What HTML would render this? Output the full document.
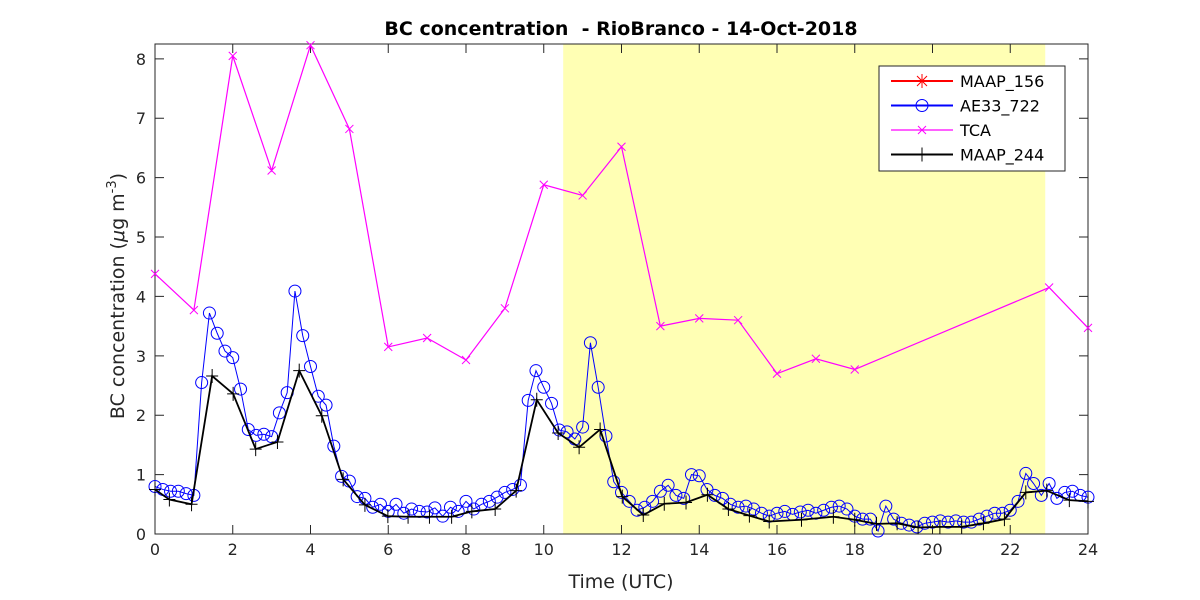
<!DOCTYPE html>
<html><head><meta charset="utf-8"><style>
html,body{margin:0;padding:0;background:#fff;}
svg{display:block;font-family:"DejaVu Sans","Liberation Sans",sans-serif;}
</style></head><body>
<svg id="chart" width="1200" height="600" xmlns="http://www.w3.org/2000/svg">
<rect x="0" y="0" width="1200" height="600" fill="#fff"/>
<text x="621" y="35" text-anchor="middle" font-size="19" font-weight="bold" xml:space="preserve" style="white-space:pre">BC concentration  - RioBranco - 14-Oct-2018</text>
<g id="plot"></g>
<text x="621" y="588" text-anchor="middle" font-size="19" fill="#262626">Time (UTC)</text>
<text transform="translate(124,296) rotate(-90)" text-anchor="middle" font-size="19" fill="#262626">BC concentration (<tspan font-style="italic">μ</tspan>g m<tspan dy="-8" font-size="13">-3</tspan><tspan dy="8">)</tspan></text>
</svg>
<script>
const xTicks=[0,2,4,6,8,10,12,14,16,18,20,22,24];
const yTicks=[0,1,2,3,4,5,6,7,8];
const shadeRange=[10.5,22.9];
const tcaTimes=[0,1,2,3,4,5,6,7,8,9,10,11,12,13,14,15,16,17,18,23,24];
const tcaValues=[4.38,3.77,8.05,6.12,8.23,6.82,3.15,3.3,2.93,3.8,5.88,5.7,6.52,3.5,3.63,3.6,2.7,2.95,2.77,4.15,3.47];
const ae33Step=0.2;
const ae33Values=[0.8,0.75,0.72,0.72,0.68,
0.65,2.55,3.72,3.38,3.08,
2.97,2.44,1.76,1.66,1.68,
1.64,2.04,2.38,4.09,3.34,
2.82,2.32,2.17,1.48,0.97,
0.89,0.63,0.6,0.45,0.5,
0.38,0.5,0.35,0.42,0.38,
0.37,0.44,0.3,0.45,0.38,
0.55,0.42,0.5,0.55,0.62,
0.7,0.75,0.82,2.25,2.75,
2.47,2.2,1.75,1.72,1.6,
1.8,3.22,2.47,1.65,0.88,
0.7,0.55,0.4,0.45,0.55,
0.72,0.82,0.65,0.6,1.0,
0.98,0.75,0.65,0.6,0.5,
0.45,0.47,0.42,0.35,0.3,
0.35,0.38,0.33,0.37,0.4,
0.35,0.4,0.45,0.47,0.42,
0.3,0.25,0.25,0.05,0.47,
0.25,0.18,0.15,0.12,0.18,
0.2,0.22,0.2,0.22,0.2,
0.2,0.25,0.3,0.35,0.35,
0.4,0.55,1.02,0.85,0.65,
0.85,0.6,0.7,0.72,0.65,
0.62];
const maap244Times=[0,0.37,0.94,1.47,2.01,2.59,3.15,3.71,4.29,4.84,5.4,5.99,6.51,7.06,7.63,8.15,8.75,9.29,9.82,10.37,10.91,11.45,12.02,12.56,13.1,13.66,14.21,14.75,15.29,15.8,16.63,17.45,18.0,18.56,19.09,19.63,20.19,20.75,21.31,21.85,22.4,22.94,23.52,24];
const maap244Values=[0.75,0.58,0.5,2.66,2.36,1.43,1.55,2.75,1.99,0.92,0.49,0.3,0.29,0.29,0.29,0.38,0.42,0.73,2.26,1.7,1.46,1.76,0.63,0.32,0.51,0.53,0.66,0.42,0.31,0.21,0.24,0.29,0.24,0.17,0.18,0.11,0.12,0.12,0.18,0.25,0.7,0.73,0.57,0.55];
const legendItems=["MAAP_156","AE33_722","TCA","MAAP_244"];

const NS="http://www.w3.org/2000/svg";
const X0=155,X1=1088,Y0=534,Y1=44;
const xs=h=>X0+(h/24)*(X1-X0);
const ys=v=>Y0-(v/8.25)*(Y0-Y1);
const plot=document.getElementById('plot');
function mk(tag,attrs,parent){const e=document.createElementNS(NS,tag);for(const k in attrs)e.setAttribute(k,attrs[k]);(parent||plot).appendChild(e);return e;}

const shade=mk('rect',{x:xs(shadeRange[0]),y:Y1,width:xs(shadeRange[1])-xs(shadeRange[0]),height:Y0-Y1,fill:'#ffffb4'});



const frame=mk('rect',{x:X0,y:Y1,width:X1-X0,height:Y0-Y1,fill:'none',stroke:'#262626','stroke-width':1});



xTicks.forEach(t=>{
  const x=xs(t);
  const tk=mk('path',{d:`M${x},${Y0}v-9M${x},${Y1}v9`,stroke:'#262626','stroke-width':1});
  
  
  const lb=mk('text',{x:x,y:Y0+21,'text-anchor':'middle','font-size':16,fill:'#262626'});
  lb.textContent=t;
  
  
});
yTicks.forEach(t=>{
  const y=ys(t);
  const tk=mk('path',{d:`M${X0},${y}h9M${X1},${y}h-9`,stroke:'#262626','stroke-width':1});
  
  
  const lb=mk('text',{x:X0-9,y:y+6,'text-anchor':'end','font-size':16,fill:'#262626'});
  lb.textContent=t;
  
  
});

function marker(type,x,y,color,g){
  if(type==='o') return mk('circle',{cx:x,cy:y,r:6,fill:'none',stroke:color,'stroke-width':1},g);
  if(type==='x') return mk('path',{d:`M${x-4},${y-4}L${x+4},${y+4}M${x-4},${y+4}L${x+4},${y-4}`,stroke:color,'stroke-width':1},g);
  if(type==='+') return mk('path',{d:`M${x-6},${y}h12M${x},${y-7}v14`,stroke:color,'stroke-width':1},g);
  if(type==='*') return mk('path',{d:`M${x-6},${y}h12M${x},${y-7}v14M${x-5},${y-5}L${x+5},${y+5}M${x-5},${y+5}L${x+5},${y-5}`,stroke:color,'stroke-width':1},g);
}

const gT=mk('g',{});


const tl=mk('polyline',{points:tcaTimes.map((t,i)=>xs(t)+','+ys(tcaValues[i])).join(' '),fill:'none',stroke:'#ff00ff','stroke-width':1.2},gT);


tcaTimes.forEach((t,i)=>{const m=marker('x',xs(t),ys(tcaValues[i]),'#ff00ff',gT);

});

const gA=mk('g',{});


const al=mk('polyline',{points:ae33Values.map((v,i)=>xs(i*ae33Step)+','+ys(v)).join(' '),fill:'none',stroke:'#0000ff','stroke-width':1},gA);


ae33Values.forEach((v,i)=>{const m=marker('o',xs(i*ae33Step),ys(v),'#0000ff',gA);

});

const gM=mk('g',{});


const ml=mk('polyline',{points:maap244Times.map((t,i)=>xs(t)+','+ys(maap244Values[i])).join(' '),fill:'none',stroke:'#000','stroke-width':1.8},gM);


maap244Times.forEach((t,i)=>{const m=marker('+',xs(t),ys(maap244Values[i]),'#000',gM);

});

const gL=mk('g',{});


const lbx=mk('rect',{x:879,y:66,width:186,height:105,fill:'#fff',stroke:'#262626','stroke-width':1},gL);


const lc=['#ff0000','#0000ff','#ff00ff','#000'];
const lm=['*','o','x','+'];
const lw=[2,2,1.2,2];
legendItems.forEach((name,i)=>{
  const y=81+i*24.5;
  const ln=mk('line',{x1:891,x2:953,y1:y,y2:y,stroke:lc[i],'stroke-width':lw[i]},gL);
  
  
  const mm=marker(lm[i],922,y,lc[i],gL);
  
  
  const tx=mk('text',{x:960,y:y+6,'font-size':16,fill:'#000'},gL);
  tx.textContent=name;
  
  
});
</script>
</body></html>
